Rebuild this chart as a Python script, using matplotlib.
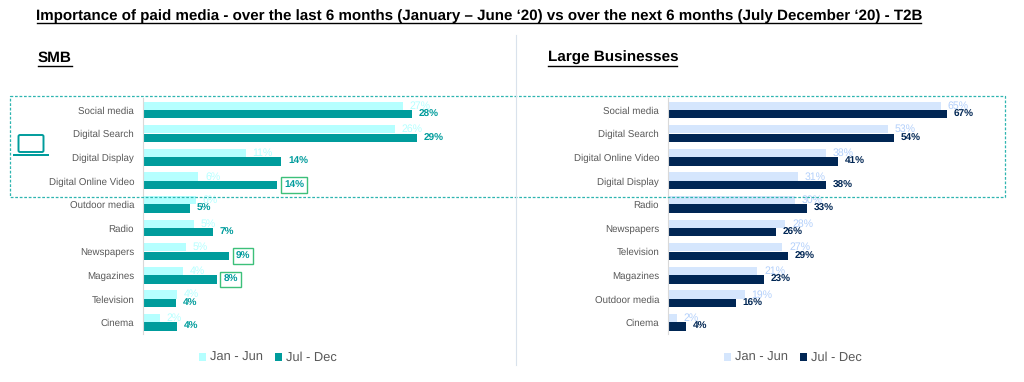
import matplotlib
matplotlib.use('Agg')
import matplotlib.pyplot as plt
from matplotlib.patches import Rectangle, FancyBboxPatch

plt.rcParams['font.family'] = ['Liberation Sans', 'DejaVu Sans']
plt.rcParams['text.hinting'] = 'no_hinting'

W, H = 1024, 382

smb_cats = ['Social media', 'Digital Search', 'Digital Display', 'Digital Online Video', 'Outdoor media',
            'Radio', 'Newspapers', 'Magazines', 'Television', 'Cinema']
smb_jan = [27.0, 26.2, 10.7, 5.8, 5.5, 5.3, 4.5, 4.2, 3.6, 1.8]
smb_jul = [28.0, 28.5, 14.4, 14.0, 4.9, 7.3, 9.0, 7.7, 3.5, 3.6]
smb_jan_labels = ['27%', '26%', '11%', '6%', '6%', '5%', '5%', '4%', '4%', '2%']
smb_jul_labels = ['28%', '29%', '14%', '14%', '5%', '7%', '9%', '8%', '4%', '4%']
smb_boxed = ['Digital Online Video', 'Newspapers', 'Magazines']

large_cats = ['Social media', 'Digital Search', 'Digital Online Video', 'Digital Display', 'Radio',
              'Newspapers', 'Television', 'Magazines', 'Outdoor media', 'Cinema']
large_jan = [65.5, 52.8, 37.9, 31.2, 30.5, 28.2, 27.5, 21.5, 18.5, 2.2]
large_jul = [66.9, 54.3, 40.9, 37.9, 33.4, 26.0, 28.9, 23.0, 16.3, 4.4]
large_jan_labels = ['65%', '53%', '38%', '31%', '30%', '28%', '27%', '21%', '19%', '2%']
large_jul_labels = ['67%', '54%', '41%', '38%', '33%', '26%', '29%', '23%', '16%', '4%']

TITLE = 'Importance of paid media - over the last 6 months (January \u2013 June \u201820) vs over the next 6 months (July December \u201820) - T2B'
TEAL = '#009C9C'
TEAL_LIGHT = '#B5FFFF'
NAVY = '#002654'
BLUE_LIGHT = '#D5E6FD'
BLUE_LABEL = '#B3D0FB'
BOX_GREEN = '#3CC07A'
TOP, ROW = 98.2, 23.6


def panel(x0, x1, px_per_pct, cats, jan, jul, jan_labels, jul_labels, c_jan, c_jul, c_jan_text, boxed, legend_x):
    n = len(cats)
    ax = fig.add_axes([x0 / W, 1 - (TOP + ROW * n) / H, (x1 - x0) / W, ROW * n / H])
    ax.patch.set_alpha(0)
    pos = list(range(n))
    b1 = ax.barh([p - 0.18 for p in pos], jan, 0.35, color=c_jan, label='Jan - Jun')
    b2 = ax.barh([p + 0.18 for p in pos], jul, 0.36, color=c_jul, label='Jul - Dec')
    ax.set_xlim(0, (x1 - x0) / px_per_pct)
    ax.set_ylim(n - 0.5, -0.5)
    ax.set_yticks(pos)
    ax.set_yticklabels(cats, fontsize=7, color='#595959')
    ax.tick_params(axis='y', length=0, pad=6)
    ax.set_xticks([])
    for s in ['top', 'right', 'bottom']:
        ax.spines[s].set_visible(False)
    ax.spines['left'].set_color('#D9D9D9')
    ax.spines['left'].set_linewidth(0.8)

    for i in pos:
        ax.annotate(jan_labels[i], (jan[i], i - 0.18), xytext=(4.8, 0), textcoords='offset points',
                    va='center', ha='left', fontsize=7.6, color=c_jan_text)
        bbox = None
        if cats[i] in boxed:
            bbox = dict(boxstyle='square,pad=0.3', fc='white', ec=BOX_GREEN, lw=1)
        ax.annotate(jul_labels[i], (jul[i], i + 0.18), xytext=(4.8, 0), textcoords='offset points',
                    va='center', ha='left', fontsize=7.2, fontweight='bold', color=c_jul, bbox=bbox)

    ax.legend(handles=[b1, b2], loc='center', bbox_to_anchor=(legend_x / W, 1 - 358 / H),
              bbox_transform=fig.transFigure, ncol=2, frameon=False, fontsize=9.3,
              labelcolor='#595959', handlelength=0.55, handleheight=0.55, handletextpad=0.3,
              columnspacing=0.9, borderpad=0, borderaxespad=0)
    return ax


fig = plt.figure(figsize=(W / 100, H / 100), dpi=100, facecolor='white')

# overlay in pixel coordinates for the frame, divider and headings
over = fig.add_axes([0, 0, 1, 1], zorder=5)
over.set_xlim(0, W)
over.set_ylim(H, 0)
over.axis('off')
over.patch.set_alpha(0)

panel(142.5, 510, 9.64, smb_cats, smb_jan, smb_jul, smb_jan_labels, smb_jul_labels,
      TEAL_LIGHT, TEAL, TEAL_LIGHT, smb_boxed, 268)
panel(667.5, 1000, 4.18, large_cats, large_jan, large_jul, large_jan_labels, large_jul_labels,
      BLUE_LIGHT, NAVY, BLUE_LABEL, [], 793)

over.text(479, 16, TITLE, ha='center', va='center', fontsize=10.9, fontweight='bold', color='black')
over.plot([37, 921], [23, 23], color='black', lw=1)

over.text(38, 58, 'SMB', ha='left', va='center', fontsize=11, fontweight='bold', color='black')
over.plot([38, 72], [65.5, 65.5], color='black', lw=1)
over.text(548, 58, 'Large Businesses', ha='left', va='center', fontsize=11, fontweight='bold', color='black')
over.plot([548, 677], [65.5, 65.5], color='black', lw=1)

over.plot([515.5, 515.5], [35, 365], color='#D9E2EC', lw=0.8)
over.add_patch(Rectangle((10, 96), 995, 101, fill=False, ec='#2FB5B0', lw=0.9, ls=(0, (2.2, 1.4))))

# laptop icon
over.add_patch(FancyBboxPatch((18.5, 135), 25, 17, boxstyle='round,pad=0,rounding_size=1.5',
                              fill=False, ec=TEAL, lw=1.4))
over.add_patch(Rectangle((12.5, 153.5), 36, 2.5, fc=TEAL, ec='none'))

fig.savefig('out.png', dpi=100)
